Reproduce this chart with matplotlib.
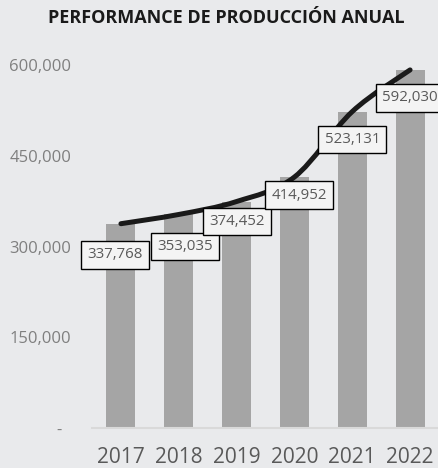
import numpy as np
import matplotlib.pyplot as plt
from matplotlib.path import Path
from matplotlib.patches import PathPatch

plt.rcParams['font.family'] = ['Open Sans', 'DejaVu Sans']

years = ['2017', '2018', '2019', '2020', '2021', '2022']
produccion = [337768, 353035, 374452, 414952, 523131, 592030]
y_ticks = [0, 150000, 300000, 450000, 600000]
y_labels = ['-  ', '150,000', '300,000', '450,000', '600,000']
# desplazamiento de cada etiqueta respecto al punto (pixeles)
label_dx = [-6, 6, 0, 5, 0, 0]
label_dy = [-31, -32, -20, -18, -28, -28]

bg = '#E9EAEC'
fig = plt.figure(figsize=(4.39, 4.68), dpi=100, facecolor=bg)
ax = fig.add_axes([92/439, 40/468, 347/439, 375/468], facecolor=bg)

x = np.arange(len(years))
ax.bar(x, produccion, width=0.5, color='#A5A5A5', zorder=2)

# linea suavizada (bezier tipo Excel)
pts = np.column_stack([x, produccion]).astype(float)
ext = np.vstack([pts[0], pts, pts[-1]])
verts = [tuple(pts[0])]
codes = [Path.MOVETO]
for i in range(len(pts) - 1):
    p0, p1, p2, p3 = ext[i], ext[i+1], ext[i+2], ext[i+3]
    c1 = p1 + (p2 - p0) / 6
    c2 = p2 - (p3 - p1) / 6
    verts += [tuple(c1), tuple(c2), tuple(p2)]
    codes += [Path.CURVE4] * 3
ax.add_patch(PathPatch(Path(verts, codes), facecolor='none', edgecolor='#1A1A1A',
                       lw=3.6, capstyle='round', zorder=3))

for xi, v, dx, dy in zip(x, produccion, label_dx, label_dy):
    ax.annotate(f'{v:,}', (xi, v), xytext=(dx*0.72, dy*0.72), textcoords='offset points',
                ha='center', va='center', fontsize=10.8, color='#595959', zorder=4,
                bbox=dict(boxstyle='square,pad=0.42', fc='#F4F4F4', ec='black', lw=1),
                annotation_clip=False)

ax.set_xlim(-0.5, 5.5)
ax.set_ylim(0, 620000)
ax.set_xticks(x)
ax.set_xticklabels(years, fontsize=15, color='#595959')
ax.set_yticks(y_ticks)
ax.set_yticklabels(y_labels, fontsize=12, color='#7F7F7F')
ax.tick_params(axis='both', length=0)
ax.tick_params(axis='y', pad=15)
ax.tick_params(axis='x', pad=14)
for s in ['top', 'right', 'left']:
    ax.spines[s].set_visible(False)
ax.spines['bottom'].set_color('#D9D9D9')
ax.spines['bottom'].set_linewidth(1.5)

fig.text(226/439, 1 - 18/468, 'PERFORMANCE DE PRODUCCIÓN ANUAL', ha='center', va='center',
         fontsize=13, fontweight='bold', color='#1A1A1A')

fig.savefig('out.png', dpi=100, facecolor=bg)
